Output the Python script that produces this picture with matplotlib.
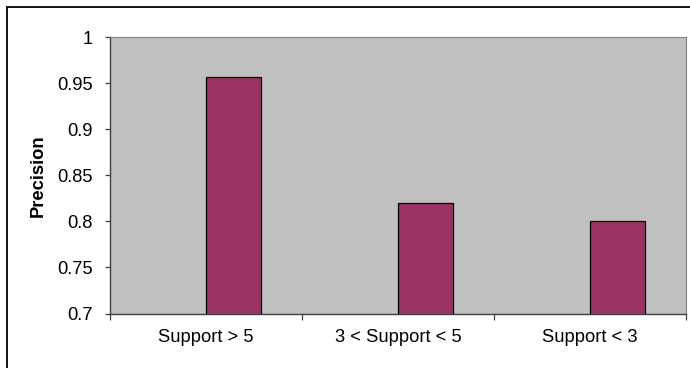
import matplotlib
matplotlib.use("Agg")
import matplotlib.pyplot as plt
from matplotlib.patches import Rectangle
import numpy as np

categories = ["Support > 5", "3 < Support < 5", "Support < 3"]
precision = [0.957, 0.82, 0.80]
yticks = [0.7, 0.75, 0.8, 0.85, 0.9, 0.95, 1.0]
ytick_labels = ["0.7", "0.75", "0.8", "0.85", "0.9", "0.95", "1"]

plt.rcParams["font.family"] = ["Liberation Sans", "DejaVu Sans"]
FS = 13.2

fig = plt.figure(figsize=(6.9, 3.68), dpi=100)
ax = fig.add_axes([110 / 690, 1 - 313.5 / 368, 576 / 690, 276.5 / 368])

# outer chart frame (runs off the right and bottom edges like the source)
fig.patches.append(Rectangle((7 / 690, -0.1), 1.2, 1 - 7 / 368 + 0.1,
                             transform=fig.transFigure, fill=False,
                             edgecolor="black", lw=1.3))

# bars sit right of the category centre (empty first series in the original)
width = 55 / 192
x = np.arange(len(categories)) + 0.5
ax.bar(x + width / 2, precision, width=width, bottom=0,
       color="#993366", edgecolor="black", linewidth=0.9, zorder=3)

ax.set_facecolor("#c0c0c0")
ax.set_xlim(0, len(categories))
ax.set_ylim(0.7, 1.0)

ax.set_yticks(yticks)
ax.set_yticklabels(ytick_labels, fontsize=FS)
ax.set_xticks(np.arange(len(categories) + 1))
ax.set_xticklabels([])
ax.set_xticks(x, minor=True)
ax.set_xticklabels(categories, minor=True, fontsize=FS)
ax.tick_params(axis="x", which="minor", length=0, pad=11)
ax.tick_params(axis="x", which="major", length=4, width=0.9, color="#404040")
ax.tick_params(axis="y", length=3.6, width=0.9, color="#404040", pad=9)

ax.set_ylabel("Precision", fontsize=FS, fontweight="bold", labelpad=7)

for s in ("top", "right"):
    ax.spines[s].set_color("#808080")
    ax.spines[s].set_linewidth(0.8)
for s in ("left", "bottom"):
    ax.spines[s].set_color("#404040")
    ax.spines[s].set_linewidth(1.0)

fig.savefig("out.png", dpi=100)
